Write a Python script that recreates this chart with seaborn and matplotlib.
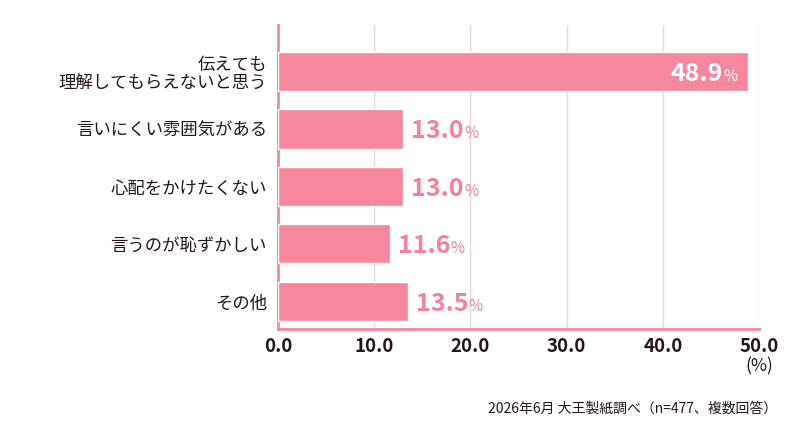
import matplotlib
matplotlib.use("Agg")
import matplotlib.pyplot as plt
import seaborn as sns
import pandas as pd

# chart data
categories = ["伝えても\n理解してもらえないと思う", "言いにくい雰囲気がある", "心配をかけたくない",
              "言うのが恥ずかしい", "その他"]
values = [48.9, 13.0, 13.0, 11.6, 13.5]
x_ticks = [0, 10, 20, 30, 40, 50]
footer = "2026年6月 大王製紙調べ（n=477、複数回答）"

df = pd.DataFrame({"reason": categories, "pct": values})

sns.set_theme(style="white")
plt.rcParams["font.family"] = ["Noto Sans CJK JP", "DejaVu Sans"]

bar_color = "#F7879F"
text_color = "#231815"
grid_color = "#EFD3DD"

fig = plt.figure(figsize=(8, 4.29), dpi=100)
ax = fig.add_axes([0.3475, 0.2331, 0.6013, 0.7086])

sns.barplot(data=df, x="pct", y="reason", orient="h", color=bar_color,
            width=0.68, saturation=1, ax=ax, zorder=3)

ax.set_xlim(0, 50)
ax.set_ylim(4.48, -0.81)
ax.set_xticks(x_ticks)
ax.set_xticklabels([f"{t:.1f}" for t in x_ticks], fontsize=13.5, fontweight="bold",
                   color=text_color)
ax.tick_params(axis="x", length=0, pad=6)
ax.tick_params(axis="y", length=0, pad=8)
for lbl in ax.get_yticklabels():
    lbl.set_fontsize(12.5)
    lbl.set_color(text_color)
    lbl.set_linespacing(1.1)
ax.set_xlabel("")
ax.set_ylabel("")

ax.grid(axis="x", color=grid_color, linewidth=1, zorder=0)
ax.set_axisbelow(True)
for side in ["top", "right"]:
    ax.spines[side].set_visible(False)
for side in ["left", "bottom"]:
    ax.spines[side].set_color(bar_color)
    ax.spines[side].set_linewidth(2)

# value labels: number plus a smaller %
for i, v in enumerate(values):
    y = i + 0.16
    if v > 40:
        pct = ax.annotate("%", xy=(v, y), xytext=(-8, 0), textcoords="offset points",
                          ha="right", va="baseline", fontsize=11, color="white")
        ax.annotate(f"{v:.1f}", xy=(0, y), xycoords=(pct, "data"), ha="right",
                    va="baseline", fontsize=18, color="white", fontweight="bold")
    else:
        num = ax.annotate(f"{v:.1f}", xy=(v, y), xytext=(6, 0), textcoords="offset points",
                          ha="left", va="baseline", fontsize=18, color="#F4829B",
                          fontweight="bold")
        ax.annotate("%", xy=(1, y), xycoords=(num, "data"), ha="left", va="baseline",
                    fontsize=11, color="#F4829B")

fig.text(0.949, 0.145, "(%)", ha="center", va="center", fontsize=12.5, color=text_color)
fig.text(0.971, 0.048, footer, ha="right", va="center", fontsize=10, color=text_color)

fig.savefig("out.png", dpi=100)
